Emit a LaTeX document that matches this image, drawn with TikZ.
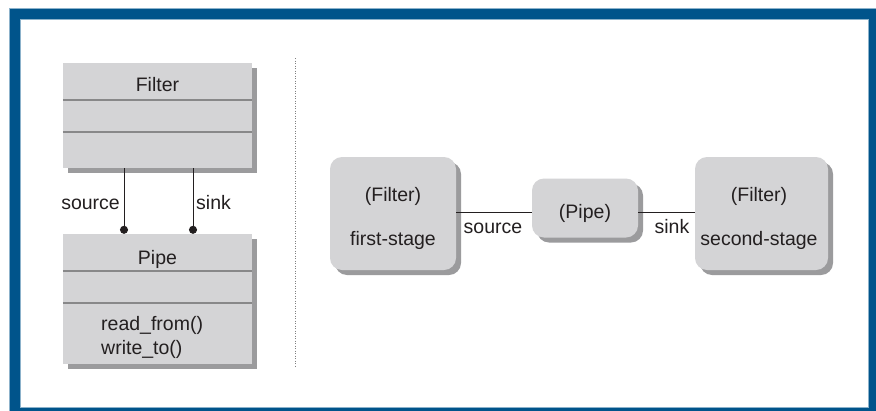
\documentclass[tikz,border=0pt]{standalone}
\usepackage{fontspec}
\setmainfont{Liberation Sans}
\usepackage{xcolor}
\usepackage{tikz}
\usetikzlibrary{shadows,arrows.meta}

\definecolor{framebl}{HTML}{00548B}
\definecolor{boxgray}{HTML}{D4D4D6}
\definecolor{shadegray}{HTML}{9B9B9D}
\definecolor{linegray}{HTML}{888889}
\definecolor{inkc}{HTML}{231F20}

\tikzset{
  classbox/.style={fill=boxgray, draw=none, inner sep=0pt, minimum width=189pt,
    drop shadow={shadow xshift=5pt, shadow yshift=-5pt, fill=shadegray, opacity=1}},
  objbox/.style={classbox, rounded corners=12pt},
  divider/.style={draw=linegray, line width=2pt},
  wire/.style={draw=inkc, line width=0.9pt},
  txt/.style={font=\fontsize{19.5}{24}\selectfont, text=inkc, inner sep=0pt},
}

\begin{document}
\begin{tikzpicture}[x=1pt,y=-1pt]
      \useasboundingbox (0,0) rectangle (876,410);
      % frame
      \fill[framebl] (9.5,8) rectangle (884,418);
      \draw[framebl!45, line width=0.8pt] (9.5,8) -- (884,8);
      \draw[framebl!45, line width=0.8pt] (9.5,8) -- (9.5,418);
      \fill[white] (20,19) rectangle (868,407);
      \draw[framebl!45, line width=0.8pt] (20,19) rectangle (868,407);
      % class diagram
      \node[classbox, minimum height=105pt] (filterclass) at (157.5,115.5) {};
      \node[classbox, minimum height=130pt] (pipeclass) at (157.5,299) {};
      \draw[divider] ([yshift=-37pt]filterclass.north west) -- ([yshift=-37pt]filterclass.north east);
      \draw[divider] ([yshift=-69pt]filterclass.north west) -- ([yshift=-69pt]filterclass.north east);
      \draw[divider] ([yshift=-37pt]pipeclass.north west) -- ([yshift=-37pt]pipeclass.north east);
      \draw[divider] ([yshift=-69pt]pipeclass.north west) -- ([yshift=-69pt]pipeclass.north east);
      \node[txt] (filtername) at (157.5,85) {Filter};
      \node[txt] (pipename) at (157.5,259) {Pipe};
      \node[txt, align=left, anchor=west] (pipeops) at (101,337) {read\_from()\\write\_to()};
      \node[txt, anchor=base east] (srclabel) at (120,209) {source};
      \node[txt, anchor=base west] (snklabel) at (196,209) {sink};
      \draw[wire, -{Circle[length=8pt]}] ([xshift=-33.5pt]filterclass.south) -- ([xshift=-33.5pt]pipeclass.north);
      \draw[wire, -{Circle[length=8pt]}] ([xshift=35.5pt]filterclass.south) -- ([xshift=35.5pt]pipeclass.north);
      % separator
      \draw[gray, line width=1pt, dash pattern=on 1pt off 1.5pt] (295,58) -- (295,366);
      % object diagram
      \node[objbox, minimum width=126pt, minimum height=113pt] (firststage) at (393,213.5) {};
      \node[objbox, minimum width=106pt, minimum height=59pt] (pipeobj) at (585,208) {};
      \node[objbox, minimum width=133pt, minimum height=113pt] (secondstage) at (761.5,213.5) {};
      \node[txt] (firsttype) at (393,196) {(Filter)};
      \node[txt] (firstrole) at (393,240) {first-stage};
      \node[txt] (pipetype) at (585,213) {(Pipe)};
      \node[txt] (secondtype) at (759,196) {(Filter)};
      \node[txt] (secondrole) at (759,240) {second-stage};
      \coordinate (busline) at (0,212);
      \draw[wire] (firststage.east |- busline) -- (pipeobj.west |- busline);
      \draw[wire] (pipeobj.east |- busline) -- (secondstage.west |- busline);
      \node[txt, anchor=base] (srcrole) at (493,233) {source};
      \node[txt, anchor=base] (snkrole) at (672,233) {sink};
\end{tikzpicture}
\end{document}
